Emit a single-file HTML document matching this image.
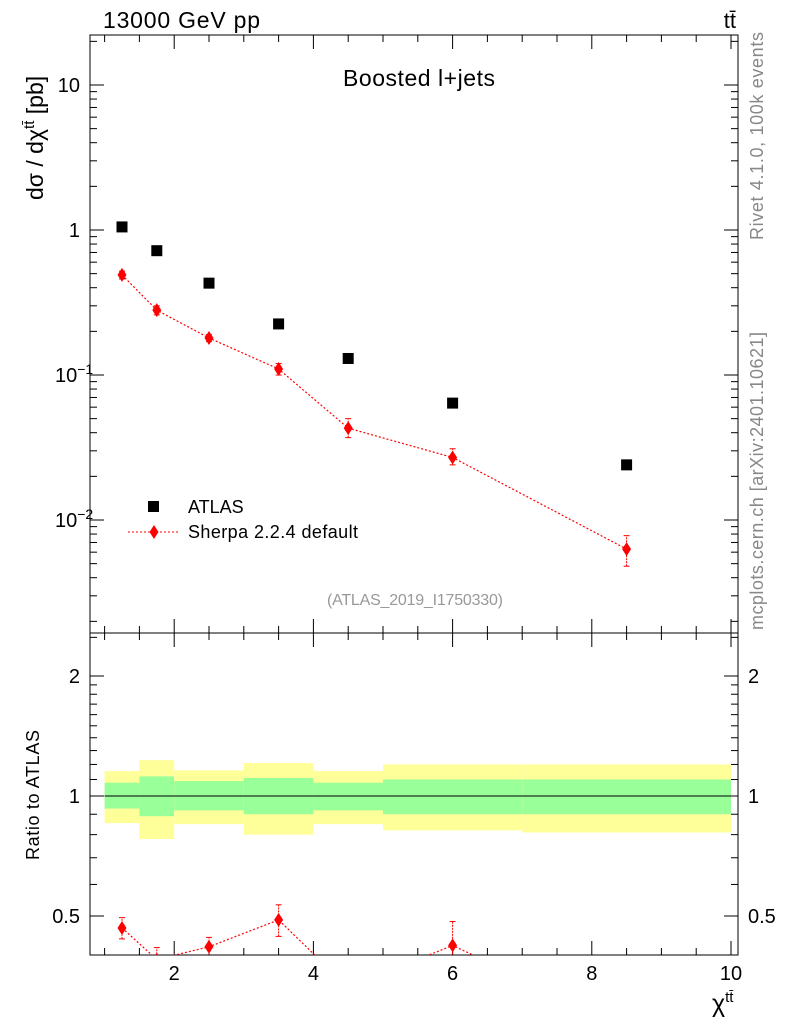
<!DOCTYPE html>
<html><head><meta charset="utf-8"><style>
body{margin:0;background:#fff;}
svg{font-family:"Liberation Sans",sans-serif;}
</style></head><body>
<svg id="c" width="786" height="1024" xmlns="http://www.w3.org/2000/svg"></svg>
<script>
const binEdges=[1,1.5,2,3,4,5,7,10];
const xCenters=[1.25,1.75,2.5,3.5,4.5,6,8.5];
const atlasVals=[1.05,0.72,0.43,0.225,0.13,0.064,0.024];
const sherpaVals=[0.49,0.28,0.18,0.11,0.043,0.027,0.0063];
const sherpaLo=[0.46,0.26,0.17,0.1,0.037,0.024,0.0048];
const sherpaHi=[0.52,0.30,0.19,0.12,0.050,0.031,0.0078];
const greenHi=[1.08,1.12,1.09,1.11,1.08,1.1,1.1];
const greenLo=[0.93,0.89,0.92,0.90,0.92,0.9,0.9];
const yellowHi=[1.155,1.23,1.16,1.21,1.155,1.2,1.2];
const yellowLo=[0.855,0.78,0.85,0.80,0.85,0.82,0.81];
const xTicks=[2,4,6,8,10];
const ratioTicks=[0.5,1,2];

const NS="http://www.w3.org/2000/svg";
const svg=document.getElementById('c');
function el(t,a,p){const e=document.createElementNS(NS,t);for(const k in a)e.setAttribute(k,a[k]);(p||svg).appendChild(e);return e;}
const L=90,R=738,T=35,MB=633,RB=955;
const X=v=>104.6+(v-1)*69.6;
const Y=v=>230-Math.log10(v)*145;
const YR=v=>796-Math.log2(v)*120;
const clip=el('clipPath',{id:'rc'});el('rect',{x:L,y:MB,width:R-L,height:RB-MB},clip);
const clip2=el('clipPath',{id:'mc'});el('rect',{x:L,y:T,width:R-L,height:MB-T},clip2);

const bands=el('g',{'clip-path':'url(#rc)'});

for(let i=0;i<7;i++){
 const x0=X(binEdges[i]),x1=X(binEdges[i+1]);
 const y=el('rect',{x:x0,y:YR(yellowHi[i]),width:x1-x0,height:YR(yellowLo[i])-YR(yellowHi[i]),fill:'#ffff99'},bands);
 
 const g=el('rect',{x:x0,y:YR(greenHi[i]),width:x1-x0,height:YR(greenLo[i])-YR(greenHi[i]),fill:'#99ff99'},bands);
 
}
el('line',{x1:X(1),x2:X(10),y1:YR(1),y2:YR(1),stroke:'#000','stroke-width':1});

for(const [t,b] of [[T,MB],[MB,RB]]) el('rect',{x:L,y:t,width:R-L,height:b-t,fill:'none',stroke:'#000','stroke-width':1});
for(let v=1;v<=10.01;v+=0.5){const big=Math.abs(v-Math.round(v))<1e-6&&Math.round(v)%2==0;const len=big?14:7;
 for(const [t,b] of [[T,MB],[MB,RB]]){el('line',{x1:X(v),x2:X(v),y1:b,y2:b-len,stroke:'#000'});el('line',{x1:X(v),x2:X(v),y1:t,y2:t+len,stroke:'#000'});}}
xTicks.forEach(v=>{const t=el('text',{x:X(v),y:980,'font-size':20,'text-anchor':'middle'});t.textContent=v;});
for(let d=-3;d<=1;d++)for(let m=1;m<10;m++){const v=m*Math.pow(10,d);const y=Y(v);if(y<T||y>MB)continue;const len=m==1?14:7;
 el('line',{x1:L,x2:L+len,y1:y,y2:y,stroke:'#000'});el('line',{x1:R,x2:R-len,y1:y,y2:y,stroke:'#000'});}
const ylabs=[[10,'10'],[1,'1'],[0.1,'10<tspan dy="-8" font-size="14">−1</tspan>'],[0.01,'10<tspan dy="-8" font-size="14">−2</tspan>']];
ylabs.forEach(([v,s])=>{const t=el('text',{x:v<0.5?55:80,y:Y(v)+7,'font-size':20,'text-anchor':v<0.5?'start':'end'});t.innerHTML=s;});
[0.5,0.6,0.7,0.8,0.9,1,1.1,1.2,1.3,1.4,1.5,1.6,1.7,1.8,1.9,2,2.5].forEach(v=>{const y=YR(v);const len=ratioTicks.includes(v)?14:7;
 el('line',{x1:L,x2:L+len,y1:y,y2:y,stroke:'#000'});el('line',{x1:R,x2:R-len,y1:y,y2:y,stroke:'#000'});});
ratioTicks.forEach(v=>{const a=el('text',{x:80,y:YR(v)+7,'font-size':20,'text-anchor':'end'});a.textContent=v;
 const b=el('text',{x:748,y:YR(v)+7,'font-size':20});b.textContent=v;});

function diamond(g,x,y){el('polygon',{points:`${x},${y-7} ${x+4.5},${y} ${x},${y+7} ${x-4.5},${y}`,fill:'#f00'},g);}
const mg=el('g',{'clip-path':'url(#mc)'});
const sl=el('polyline',{points:xCenters.map((x,i)=>X(x)+','+Y(sherpaVals[i])).join(' '),fill:'none',stroke:'#f00','stroke-dasharray':'2,2','stroke-width':1.2},mg);

xCenters.forEach((x,i)=>{
 const s=el('rect',{x:X(x)-5.5,y:Y(atlasVals[i])-5.5,width:11,height:11,fill:'#000'},mg);
 
 const g=el('g',{},mg);
 el('line',{x1:X(x),x2:X(x),y1:Y(sherpaLo[i]),y2:Y(sherpaHi[i]),stroke:'#f00','stroke-dasharray':'2,1'},g);
 el('line',{x1:X(x)-3,x2:X(x)+3,y1:Y(sherpaLo[i]),y2:Y(sherpaLo[i]),stroke:'#f00'},g);
 el('line',{x1:X(x)-3,x2:X(x)+3,y1:Y(sherpaHi[i]),y2:Y(sherpaHi[i]),stroke:'#f00'},g);
 diamond(g,X(x),Y(sherpaVals[i]));
});
const rg=el('g',{'clip-path':'url(#rc)'});
const rl=el('polyline',{points:xCenters.map((x,i)=>X(x)+','+YR(sherpaVals[i]/atlasVals[i])).join(' '),fill:'none',stroke:'#f00','stroke-dasharray':'2,2','stroke-width':1.2},rg);

xCenters.forEach((x,i)=>{
 const g=el('g',{},rg);
 const lo=sherpaLo[i]/atlasVals[i],hi=sherpaHi[i]/atlasVals[i];
 el('line',{x1:X(x),x2:X(x),y1:YR(lo),y2:YR(hi),stroke:'#f00','stroke-dasharray':'2,1'},g);
 el('line',{x1:X(x)-3,x2:X(x)+3,y1:YR(lo),y2:YR(lo),stroke:'#f00'},g);
 el('line',{x1:X(x)-3,x2:X(x)+3,y1:YR(hi),y2:YR(hi),stroke:'#f00'},g);
 diamond(g,X(x),YR(sherpaVals[i]/atlasVals[i]));
});
</script>
<svg width="786" height="1024" style="position:absolute;left:0;top:0" xmlns="http://www.w3.org/2000/svg">
<text x="103" y="28" font-size="23" textLength="157">13000 GeV pp</text>
<text x="736" y="28" font-size="22" text-anchor="end">tt̄</text>
<text x="343" y="86" font-size="23" textLength="152">Boosted l+jets</text>
<text x="327" y="605" font-size="16" fill="#999" textLength="176">(ATLAS_2019_I1750330)</text>
<text transform="translate(43,200) rotate(-90)" font-size="23">dσ / dχ<tspan dy="-9" font-size="15">tt̄</tspan><tspan dy="9"> [pb]</tspan></text>
<text transform="translate(39,860) rotate(-90)" font-size="18" textLength="130">Ratio to ATLAS</text>
<text x="712" y="1012" font-size="25">χ<tspan dy="-10" font-size="15">tt̄</tspan></text>
<text transform="translate(763,240) rotate(-90)" font-size="18" fill="#888" textLength="208">Rivet 4.1.0,  100k events</text>
<text transform="translate(763,630) rotate(-90)" font-size="18" fill="#888" textLength="298">mcplots.cern.ch [arXiv:2401.10621]</text>
<g>
<rect x="148" y="501" width="11" height="11" fill="#000"/>
<text x="188" y="513" font-size="18">ATLAS</text>
<line x1="128" x2="180" y1="532" y2="532" stroke="#f00" stroke-dasharray="2,2"/>
<polygon points="154,525 158.5,532 154,539 149.5,532" fill="#f00"/>
<text x="188" y="538" font-size="18" textLength="170">Sherpa 2.2.4 default</text>
</g>
</svg>
</body></html>
